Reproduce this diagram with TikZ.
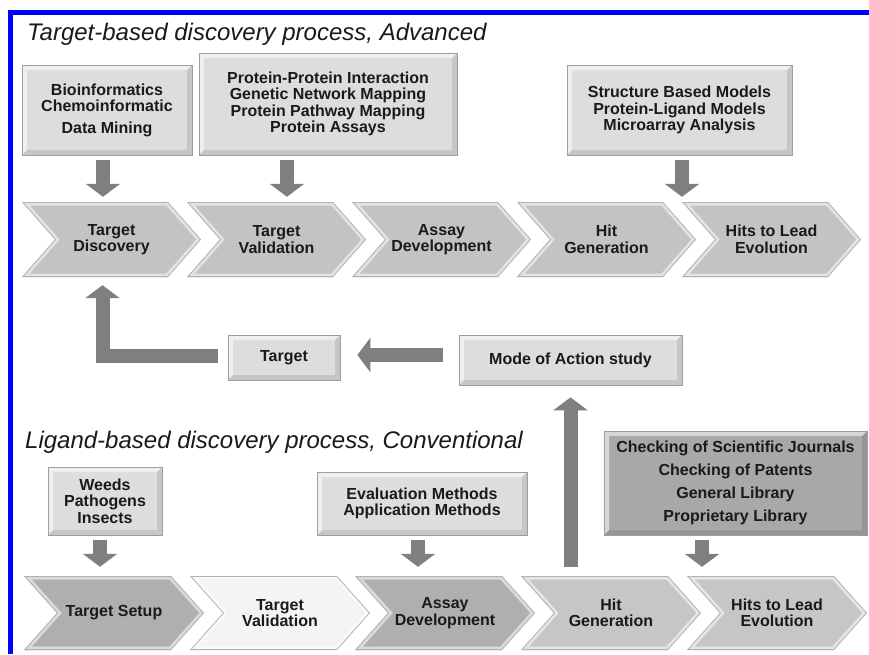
\documentclass[tikz,border=0pt]{standalone}
\usepackage{fontspec}
\setmainfont{Liberation Sans}
\usetikzlibrary{arrows.meta}
\definecolor{arrgray}{HTML}{7F7F7F}
\definecolor{boxgray}{HTML}{DDDDDD}
\definecolor{boxdark}{HTML}{A8A8A8}
\definecolor{chevgray}{HTML}{C3C3C3}
\definecolor{chevdark}{HTML}{AFAFAF}
\definecolor{chevlight}{HTML}{F4F4F4}
\definecolor{chevmid}{HTML}{C6C6C6}
\definecolor{txt}{HTML}{1A1A1A}
\tikzset{
  infobox/.style={rectangle, draw=black!38, line width=0.8pt, fill=#1, inner sep=0pt,
    align=center, text=txt, font=\fontsize{16}{16.5}\selectfont\bfseries,
    path picture={
      \fill[white,opacity=.55] (path picture bounding box.north west) -- (path picture bounding box.north east)
        -- ([shift={(-5pt,-5pt)}]path picture bounding box.north east) -- ([shift={(5pt,-5pt)}]path picture bounding box.north west)
        -- ([shift={(5pt,5pt)}]path picture bounding box.south west) -- (path picture bounding box.south west) -- cycle;
      \fill[black,opacity=.10] (path picture bounding box.south east) -- (path picture bounding box.north east)
        -- ([shift={(-5pt,-5pt)}]path picture bounding box.north east) -- ([shift={(-5pt,5pt)}]path picture bounding box.south east)
        -- ([shift={(5pt,5pt)}]path picture bounding box.south west) -- (path picture bounding box.south west) -- cycle;
    }},
  infobox/.default=boxgray,
  chevp/.style={insert path={(path picture bounding box.north west)
      -- ([xshift=-33pt]path picture bounding box.north east) -- (path picture bounding box.east)
      -- ([xshift=-33pt]path picture bounding box.south east) -- (path picture bounding box.south west)
      -- ([xshift=33pt]path picture bounding box.west) -- cycle}},
  chev/.style={rectangle, inner sep=0pt, minimum width=179pt, minimum height=75pt,
    align=center, text=txt, font=\fontsize{16}{16.5}\selectfont\bfseries,
    path picture={
      \path[clip,chevp];
      \fill[#1,chevp];
      \draw[white,opacity=.55,line width=7pt,chevp];
      \draw[black!30,line width=1.6pt,chevp];
    }},
  chev/.default=chevgray,
  chevB/.style={chev=#1, minimum width=180pt, minimum height=74pt},
  blockarr/.style={draw=arrgray, line width=14pt, line join=miter,
    -{Triangle[width=34pt,length=13pt]}},
  title/.style={anchor=base west, inner sep=0pt, text=txt,
    font=\fontsize{24}{28}\selectfont\itshape},
}
\begin{document}
\begin{tikzpicture}[x=1pt,y=-1pt]
\useasboundingbox (0,0) rectangle (869,654);
\fill[white] (0,0) rectangle (869,654);
\draw[blue, line width=5pt] (10.5,654) -- (10.5,12.5) -- (869,12.5);

% titles
\node[title] (title1) at (27,40) {Target-based discovery process, Advanced};
\node[title] (title2) at (25,448) {Ligand-based discovery process, Conventional};

% top information boxes
\node[infobox, minimum width=170pt, minimum height=90pt] (bio) at (107,110)
  {Bioinformatics\\Chemoinformatic\\[5pt]Data Mining};
\node[infobox, minimum width=258pt, minimum height=102pt] (ppi) at (328,104)
  {Protein-Protein Interaction\\Genetic Network Mapping\\Protein Pathway Mapping\\Protein Assays};
\node[infobox, minimum width=225pt, minimum height=90pt] (sbm) at (679.5,110)
  {Structure Based Models\\Protein-Ligand Models\\Microarray Analysis};

% top chevrons
\node[chev] (t1) at (111.5,239.5) {Target\\Discovery};
\node[chev] (t2) at (276.5,239.5) {Target\\Validation};
\node[chev] (t3) at (441.5,239.5) {Assay\\Development};
\node[chev] (t4) at (606.5,239.5) {Hit\\Generation};
\node[chev] (t5) at (771.5,239.5) {Hits to Lead\\Evolution};

% middle boxes
\node[infobox, minimum width=112pt, minimum height=45pt] (target) at (284,357.5) {Target};
\node[infobox, minimum width=223pt, minimum height=50pt] (mode) at (570.5,360) {Mode of Action study};

% bottom information boxes
\node[infobox, minimum width=114pt, minimum height=68pt] (weeds) at (105,501)
  {Weeds\\Pathogens\\Insects};
\node[infobox, minimum width=210pt, minimum height=63pt] (eval) at (422,503.5)
  {Evaluation Methods\\Application Methods};
\node[infobox=boxdark, minimum width=263pt, minimum height=104pt, font=\fontsize{16}{23}\selectfont\bfseries] (check) at (735.5,483)
  {Checking of Scientific Journals\\Checking of Patents\\General Library\\Proprietary Library};

% bottom chevrons
\node[chevB=chevdark] (b1) at (114,613) {Target Setup};
\node[chevB=chevlight] (b2) at (280,613) {Target\\Validation};
\node[chevB=chevdark] (b3) at (445,613) {Assay\\Development};
\node[chevB=chevmid] (b4) at (611,613) {Hit\\Generation};
\node[chevB=chevmid] (b5) at (777,613) {Hits to Lead\\Evolution};

% top arrows
\draw[blockarr] ([xshift=-4pt,yshift=-5pt]bio.south) -- ([xshift=-8.5pt,yshift=5pt]t1.north);
\draw[blockarr] ([xshift=-41pt,yshift=-5pt]ppi.south) -- ([xshift=10.5pt,yshift=5pt]t2.north);
\draw[blockarr] ([xshift=2.5pt,yshift=-5pt]sbm.south) -- ([xshift=-89.5pt,yshift=5pt]t5.north);

% feedback arrows
\draw[blockarr] ([xshift=-16pt,yshift=5pt]mode.west) -- ([xshift=17pt,yshift=2.5pt]target.east);
\draw[blockarr] ([xshift=-10pt,yshift=2pt]target.west) -| ([xshift=-9pt,yshift=-8pt]t1.south);
\draw[blockarr] ([xshift=-40.5pt,yshift=9pt]b4.north) -- ([yshift=-12pt]mode.south);

% bottom arrows
\draw[blockarr] ([xshift=-5pt,yshift=-5pt]weeds.south) -- ([xshift=-14pt,yshift=9pt]b1.north);
\draw[blockarr] ([xshift=-4pt,yshift=-5pt]eval.south) -- ([xshift=-27pt,yshift=9pt]b3.north);
\draw[blockarr] ([xshift=-33.5pt,yshift=-5pt]check.south) -- ([xshift=-75pt,yshift=9pt]b5.north);
\end{tikzpicture}
\end{document}
